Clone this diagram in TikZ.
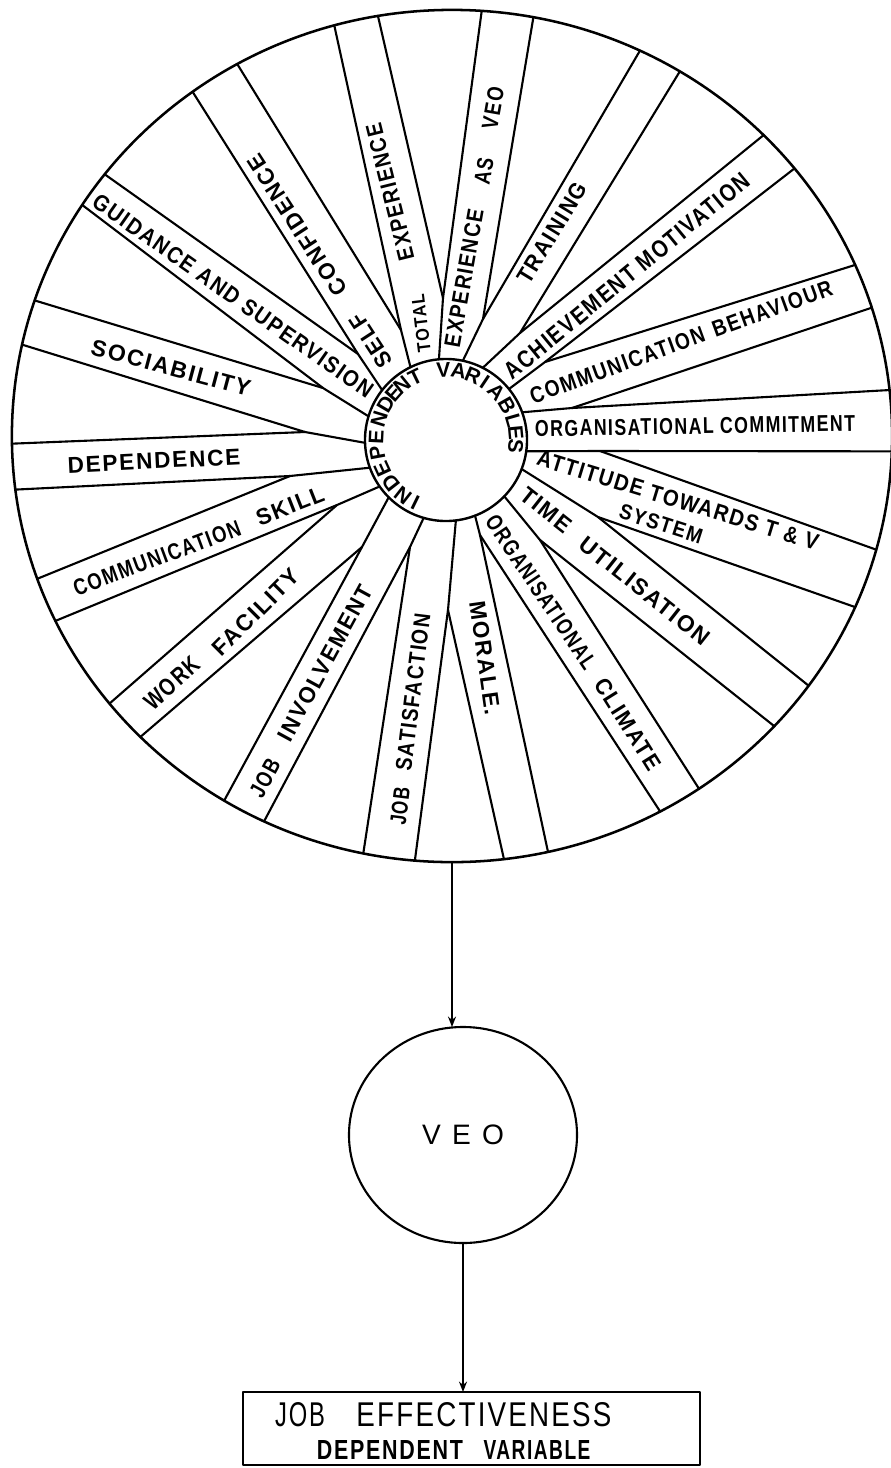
\documentclass[tikz,border=0pt]{standalone}
\usepackage{graphicx}
\usepackage{fontspec}
\setmainfont{Liberation Sans}
\newfontfamily\labfont[LetterSpace=8]{Liberation Sans}
\usetikzlibrary{shapes.geometric,arrows.meta}
\newlength\pxu \setlength\pxu{0.025cm}
% bold wheel label: name, x, y, angle, width, height, text
\newcommand\lbl[7]{\node[lab,rotate=#4] (#1) at (#2,#3) {\resizebox{#5\pxu}{#6\pxu}{\labfont\bfseries #7}};}
% regular label
\newcommand\lblr[7]{\node[lab,rotate=#4] (#1) at (#2,#3) {\resizebox{#5\pxu}{#6\pxu}{\labfont #7}};}
% hub letter: name, angle, letter
\newcommand\hl[3]{\node[lab,rotate={#2-90}] (#1) at ({446+70*cos(#2)},{440-70*sin(#2)}) {\fontsize{15}{15}\selectfont\labfont\bfseries #3};}
\begin{document}
\begin{tikzpicture}[x=0.025cm,y=-0.025cm,line cap=round,line join=round,
  spoke/.style={line width=1.5pt},
  lab/.style={inner sep=0pt,outer sep=0pt},
  arr/.style={line width=1.4pt,-{Stealth[length=2.6mm,width=2mm]}}]
\useasboundingbox (0,0) rectangle (890,1468);

% outer wheel and hub
\node[draw,ellipse,line width=1.8pt,inner sep=0pt,outer sep=0pt,minimum width=22cm,minimum height=21.3cm] (wheel) at (452,436) {};
\node[draw,circle,line width=1.7pt,inner sep=0pt,outer sep=0pt,minimum size=4.05cm] (hub) at (446,440) {};

% merge points of the V-shaped spokes
\coordinate (ma) at (401,330);
\coordinate (mb) at (443,298);
\coordinate (mc) at (483,319);
\coordinate (md) at (520,333);
\coordinate (me) at (545,362);
\coordinate (mf) at (572,408);
\coordinate (mg) at (600,451);
\coordinate (mh) at (598,517);
\coordinate (mi) at (540,540);
\coordinate (mj) at (480,535);
\coordinate (mk) at (448,610);
\coordinate (ml) at (410,547);
\coordinate (mm) at (362,547);
\coordinate (mn) at (337,505);
\coordinate (mo) at (290,476);
\coordinate (mp) at (305,432);
\coordinate (mq) at (323,388);
\coordinate (mr) at (358,354);

% spokes
\draw[spoke] (wheel.120.3) -- (ma) -- (hub.116.3); \draw[spoke] (wheel.106.7) -- (ma);
\draw[spoke] (wheel.100.4) -- (mb) -- (hub.95.7);  \draw[spoke] (wheel.86.2) -- (mb);
\draw[spoke] (wheel.79.9) -- (mc) -- (hub.78.7);   \draw[spoke] (wheel.64.1) -- (mc);
\draw[spoke] (wheel.58.6) -- (md) -- (hub.63.1);   \draw[spoke] (wheel.44.7) -- (md);
\draw[spoke] (wheel.38.0) -- (me) -- (hub.39.4);   \draw[spoke] (wheel.23.6) -- (me);
\draw[spoke] (wheel.17.9) -- (mf) -- (hub.20.1);   \draw[spoke] (wheel.6.3) -- (mf);
\draw[spoke] (wheel.358.8) -- (mg) -- (hub.352.1); \draw[spoke] (wheel.345.2) -- (mg);
\draw[spoke] (wheel.337.4) -- (mh) -- (hub.339.9); \draw[spoke] (wheel.325.6) -- (mh);
\draw[spoke] (wheel.318.8) -- (mi) -- (hub.316.9); \draw[spoke] (wheel.305.8) -- (mi);
\draw[spoke] (wheel.299.1) -- (mj) -- (hub.291.3); \draw[spoke] (wheel.283.5) -- (mj);
\draw[spoke] (wheel.277.4) -- (mk) -- (hub.277.7); \draw[spoke] (wheel.265.0) -- (mk);
\draw[spoke] (wheel.258.7) -- (ml) -- (hub.254.6); \draw[spoke] (wheel.244.2) -- (ml);
\draw[spoke] (wheel.238.4) -- (mm) -- (hub.225.9); \draw[spoke] (wheel.224.4) -- (mm);
\draw[spoke] (wheel.218.7) -- (mn) -- (hub.215.0); \draw[spoke] (wheel.205.4) -- (mn);
\draw[spoke] (wheel.199.5) -- (mo) -- (hub.200.3); \draw[spoke] (wheel.187.0) -- (mo);
\draw[spoke] (wheel.181.4) -- (mp) -- (hub.182.8); \draw[spoke] (wheel.168.6) -- (mp);
\draw[spoke] (wheel.162.8) -- (mq) -- (hub.163.1); \draw[spoke] (wheel.148.9) -- (mq);
\draw[spoke] (wheel.143.0) -- (mr) -- (hub.142.9); \draw[spoke] (wheel.127.5) -- (mr);

% band labels
\lbl{t1}{421}{323}{97}{58}{13}{TOTAL}
\lbl{t2}{390}{192}{104}{140}{16}{EXPERIENCE}
\lbl{e1}{464}{278}{80}{140}{16}{EXPERIENCE}
\lbl{e2}{484}{171}{80}{27}{16}{AS}
\lbl{e3}{493}{108}{80}{42}{16}{VEO}
\lbl{tr}{552}{233}{58.6}{114}{16}{TRAINING}
\lbl{am}{627}{276}{39.4}{310}{17}{ACHIEVEMENT MOTIVATION}
\lbl{cb}{681}{342}{20}{320}{16}{COMMUNICATION\hspace{0.5em}BEHAVIOUR}
\lbl{oc}{695}{426}{1}{320}{16}{ORGANISATIONAL COMMITMENT}
\lbl{at}{678}{500}{-17}{293}{16}{ATTITUDE TOWARDS T \& V}
\lbl{sy}{661}{524}{-17.7}{86}{15}{SYSTEM}
\lbl{tu1}{546}{510}{-38.3}{58}{16}{TIME}
\lbl{tu2}{645}{591}{-38.3}{159}{16}{UTILISATION}
\lbl{cl1}{541}{592}{-56.1}{180}{16}{ORGANISATIONAL}
\lbl{cl2}{628}{724}{-58}{104}{16}{CLIMATE}
\lbl{mo}{485}{658}{-82}{115}{16}{MORALE.}
\lbl{js1}{400}{806}{83}{38}{16}{JOB}
\lbl{js2}{413}{692}{83}{158}{16}{SATISFACTION}
\lbl{ji1}{265}{778}{61.5}{40}{16}{JOB}
\lbl{ji2}{325}{663}{61.5}{174}{16}{INVOLVEMENT}
\lbl{wf1}{172}{683}{42}{66}{17}{WORK}
\lbl{wf2}{256}{612}{45}{113}{16}{FACILITY}
\lbl{cs1}{157}{558}{20.4}{177}{16}{COMMUNICATION}
\lbl{cs2}{290}{506}{21.5}{71}{16}{SKILL}
\lbl{de}{154}{461}{2.9}{173}{16}{DEPENDENCE}
\lbl{so}{171}{368}{-15}{164}{16}{SOCIABILITY}
\lbl{gs}{233}{296}{-35.1}{337}{16}{GUIDANCE AND SUPERVISION}
\lbl{sc1}{371}{341}{123}{60}{16}{SELF}
\lbl{sc2}{297}{225}{123}{163}{16}{CONFIDENCE}

% hub text
\hl{h1}{243.9}{I}
\hl{h2}{232}{N}
\hl{h3}{218}{D}
\hl{h4}{204.4}{E}
\hl{h5}{190.6}{P}
\hl{h6}{177.3}{E}
\hl{h7}{163}{N}
\hl{h8}{149.5}{D}
\hl{h9}{138.6}{E}
\hl{h10}{128.9}{N}
\hl{h11}{116}{T}
\hl{h12}{92.2}{V}
\hl{h13}{79.6}{A}
\hl{h14}{67.4}{R}
\hl{h15}{56.3}{I}
\hl{h16}{43.9}{A}
\hl{h17}{29.6}{B}
\hl{h18}{16.1}{L}
\hl{h19}{5.5}{E}
\hl{h20}{-5.4}{S}

% VEO and box
\node[draw,ellipse,line width=1.5pt,inner sep=0pt,outer sep=0pt,minimum width=5.7cm,minimum height=5.4cm] (veo) at (463,1135)
  {\fontsize{20}{20}\selectfont\makebox[82\pxu][s]{V\hfill E\hfill O}};
\node[draw,rectangle,line width=1.6pt,inner sep=0pt,outer sep=0pt,minimum width=11.425cm,minimum height=1.825cm] (box) at (471.5,1428.5) {};
\lblr{b1}{300}{1415}{0}{50}{24}{JOB}
\lblr{b2}{484}{1415}{0}{255}{24}{EFFECTIVENESS}
\lbl{b3}{390}{1450}{0}{146}{19}{DEPENDENT}
\lbl{b4}{537}{1450}{0}{107}{19}{VARIABLE}

% connectors
\draw[arr] (wheel.south) -- (wheel.south |- veo.north);
\draw[arr] (veo.south) -- (veo.south |- box.north);
\end{tikzpicture}
\end{document}
